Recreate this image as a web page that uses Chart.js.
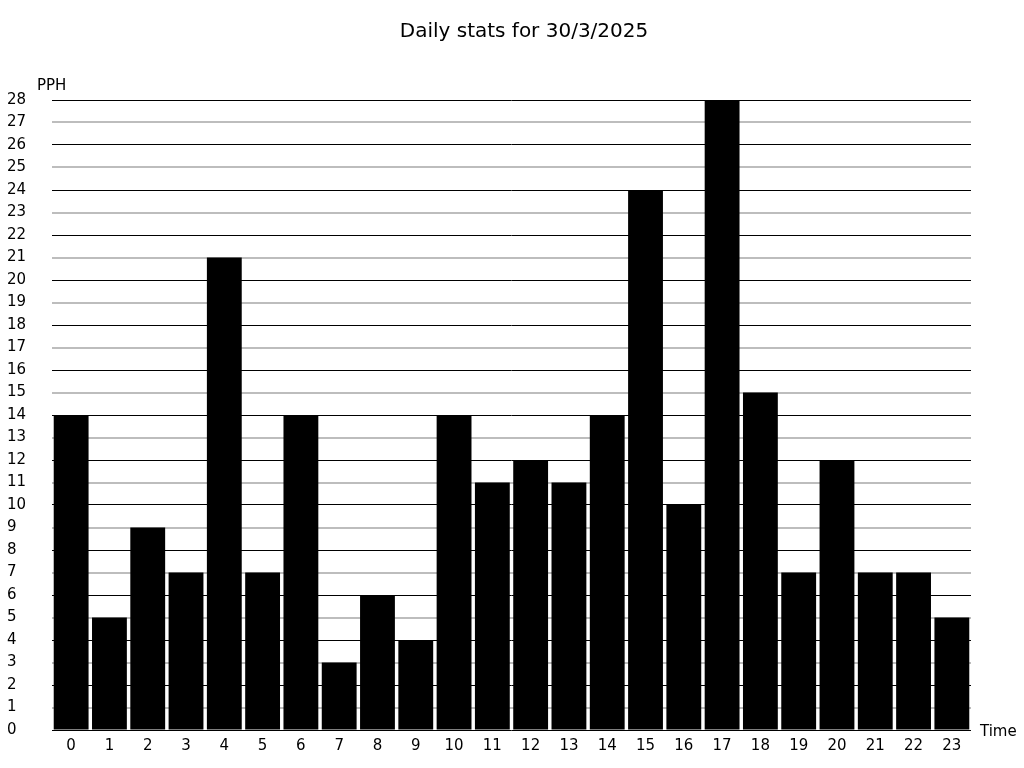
<!DOCTYPE html>
<html>
<head>
<meta charset="utf-8">
<script src="https://cdn.jsdelivr.net/npm/chart.js@4"></script>
<style>
  html, body { margin: 0; padding: 0; background: #fff; }
  #wrap { width: 1024px; height: 768px; }
</style>
</head>
<body>
<div id="wrap"><canvas id="dailyChart" width="1024" height="768"></canvas></div>
<script>
  // values
  const hours = ['0', '1', '2', '3', '4', '5', '6', '7', '8', '9', '10', '11',
                 '12', '13', '14', '15', '16', '17', '18', '19', '20', '21', '22', '23'];
  const pph = [14, 5, 9, 7, 21, 7, 14, 3, 6, 4, 14, 11, 12, 11, 14, 24, 10, 28, 15, 7, 12, 7, 7, 5];
  const yMax = 28;
  const chartTitle = 'Daily stats for 30/3/2025';
  const yLabel = 'PPH';
  const xLabel = 'Time';

  const FONT = 'DejaVu Sans';

  // title and the two axis captions are drawn by hand
  const captions = {
    id: 'captions',
    afterDraw(chart) {
      const c = chart.ctx;
      const area = chart.chartArea;
      c.save();
      c.fillStyle = '#000';
      c.font = '20px "' + FONT + '"';
      c.textAlign = 'center';
      c.textBaseline = 'middle';
      c.fillText(chartTitle, 524, 32);
      c.font = '15px "' + FONT + '"';
      c.textAlign = 'left';
      c.fillText(yLabel, 37, area.top - 14);
      c.fillText(xLabel, area.right + 9, area.bottom + 2);
      c.restore();
    }
  };

  const ctx = document.getElementById('dailyChart').getContext('2d');
  const dailyChart = new Chart(ctx, {
    type: 'bar',
    data: {
      labels: hours,
      datasets: [{
        data: pph,
        backgroundColor: '#000',
        borderWidth: 0,
        barPercentage: 0.91,
        categoryPercentage: 1
      }]
    },
    options: {
      responsive: false,
      animation: false,
      layout: { padding: { left: 7, right: 53, top: 100, bottom: 0 } },
      plugins: {
        legend: { display: false },
        title: { display: false },
        tooltip: { enabled: false }
      },
      scales: {
        x: {
          grid: { display: false, drawTicks: false },
          border: { display: false },
          ticks: { color: '#000', font: { family: FONT, size: 15 }, padding: 7, maxRotation: 0 },
          afterFit(scale) { scale.height = 38; }
        },
        y: {
          min: 0,
          max: yMax,
          grid: {
            drawTicks: false,
            color: (c) => (c.tick && c.tick.value % 2 === 0) ? '#000' : '#bdbdbd',
            lineWidth: (c) => (c.tick && c.tick.value % 2 === 0) ? 1 : 2
          },
          border: { display: false },
          ticks: {
            stepSize: 1,
            color: '#000',
            crossAlign: 'far',
            font: { family: FONT, size: 15 }
          },
          afterFit(scale) { scale.width = 45; }
        }
      }
    },
    plugins: [captions]
  });
</script>
</body>
</html>
